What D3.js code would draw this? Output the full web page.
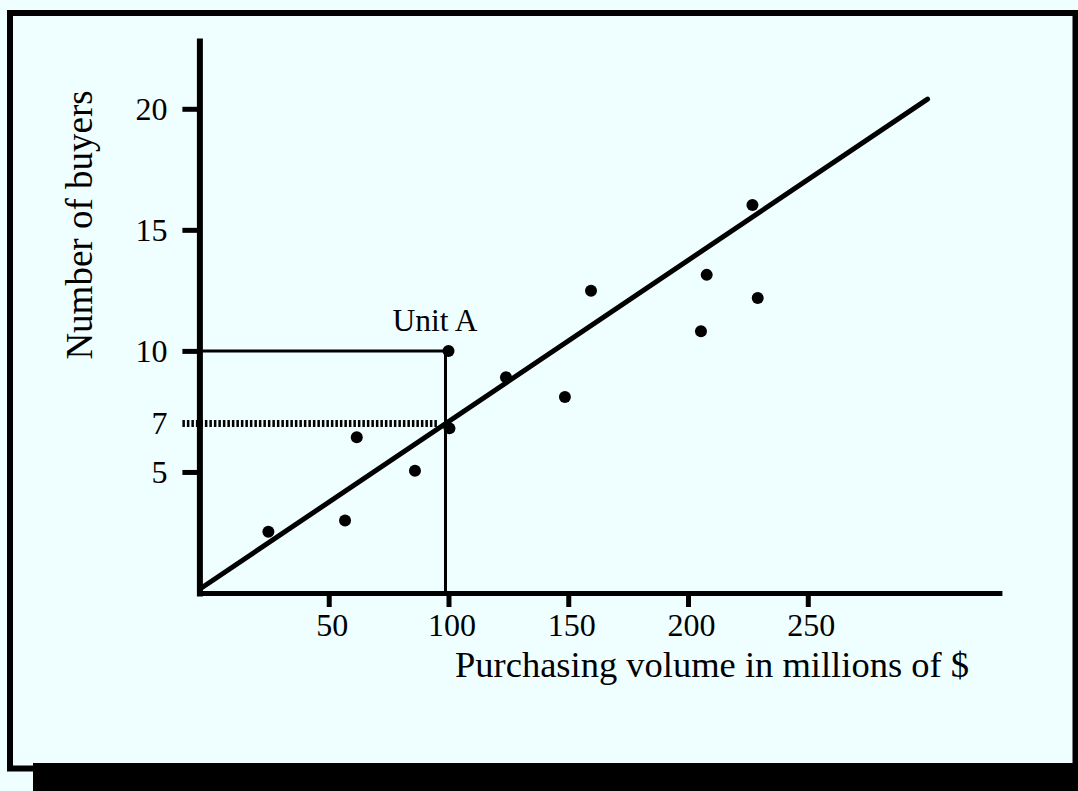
<!DOCTYPE html>
<html>
<head>
<meta charset="utf-8">
<script src="https://cdn.jsdelivr.net/npm/d3@7"></script>
<style>
  html, body { margin: 0; padding: 0; background: #effefe; }
  svg { display: block; }
  text { font-family: "Liberation Serif", "DejaVu Serif", serif; fill: #000; }
</style>
</head>
<body>
<div id="chart"></div>
<script>
// ---- data ----
const volume = [24.8, 56.8, 61.7, 86.0, 100, 100.4, 124.0, 148.6, 159.5, 205.4, 207.8, 226.9, 229.1];
const buyers = [2.53, 2.99, 6.43, 5.05, 10, 6.8, 8.91, 8.1, 12.48, 10.81, 13.14, 16.03, 12.18];

const xTicks = [50, 100, 150, 200, 250];
const yTicks = [5, 7, 10, 15, 20];

// fitted line: buyers = intercept + slope * volume
const fitIntercept = 0.42;
const fitSlope = 0.0666;
const fitFrom = -3.8, fitTo = 300;

// Unit A reference box and the read-off level
const unitA = { volume: 100, buyers: 10, label: "Unit A" };
const readLevel = 7;

const xTitle = "Purchasing volume in millions of $";
const yTitle = "Number of buyers";

// ---- drawing ----
const W = 1078, H = 791;
const svg = d3.select("#chart").append("svg")
    .attr("width", W).attr("height", H);

// frame + shadow band
svg.append("rect")
    .attr("x", 10).attr("y", 13)
    .attr("width", 1065.5).attr("height", 755.5)
    .attr("fill", "#effefe").attr("stroke", "#000").attr("stroke-width", 6);
svg.append("rect")
    .attr("x", 33).attr("y", 763)
    .attr("width", W - 33).attr("height", H - 763)
    .attr("fill", "#000");

const x = d3.scaleLinear().domain([-4, 330]).range([199.4, 999.4]);
const y = d3.scaleLinear().domain([0, 22.8]).range([593, 41]);

const g = svg.append("g");

// y axis
const yAxis = g.append("g")
    .attr("transform", `translate(${x(-4)},0)`)
    .call(d3.axisLeft(y).tickValues(yTicks).tickSize(17).tickSizeOuter(0).tickPadding(15).tickFormat(d3.format("d")));
yAxis.select(".domain").attr("stroke-width", 6).attr("stroke-linecap", "square");
yAxis.selectAll(".tick line").attr("stroke-width", 5)
    .attr("display", d => d === readLevel ? "none" : null);
yAxis.selectAll(".tick text")
    .style("font-family", "Liberation Serif, serif").attr("font-size", 32)
    .attr("fill", "#000");

// x axis
const xAxis = g.append("g")
    .attr("transform", `translate(0,${y(0)})`)
    .call(d3.axisBottom(x).tickValues(xTicks).tickSize(14).tickSizeOuter(0).tickPadding(6).tickFormat(d3.format("d")));
xAxis.select(".domain").attr("stroke-width", 5).attr("stroke-linecap", "square");
xAxis.selectAll(".tick line").attr("stroke-width", 5);
xAxis.selectAll(".tick text")
    .style("font-family", "Liberation Serif, serif").attr("font-size", 32)
    .attr("fill", "#000").attr("dx", 3);

// Unit A box
g.append("path")
    .attr("d", `M${x(-4)},${y(unitA.buyers)}H${x(unitA.volume) - 3}V${y(0)}`)
    .attr("fill", "none").attr("stroke", "#000").attr("stroke-width", 3);

g.append("text")
    .attr("x", x(unitA.volume) - 56).attr("y", y(unitA.buyers) - 20)
    .attr("font-size", 31.5)
    .text(unitA.label);

// dotted read-off line at 7
const cross = (readLevel - fitIntercept) / fitSlope;
g.append("line")
    .attr("x1", x(-4) - 17).attr("x2", x(cross) - 8)
    .attr("y1", y(readLevel)).attr("y2", y(readLevel))
    .attr("stroke", "#000").attr("stroke-width", 7)
    .attr("stroke-dasharray", "2.5,2");

// fitted line
g.append("line")
    .attr("x1", x(fitFrom)).attr("y1", y(fitIntercept + fitSlope * fitFrom))
    .attr("x2", x(fitTo)).attr("y2", y(fitIntercept + fitSlope * fitTo))
    .attr("stroke", "#000").attr("stroke-width", 5).attr("stroke-linecap", "round");

// points
g.selectAll("circle.pt")
    .data(d3.range(volume.length))
    .join("circle")
    .attr("class", "pt")
    .attr("cx", i => x(volume[i]))
    .attr("cy", i => y(buyers[i]))
    .attr("r", 6)
    .attr("fill", "#000");

// axis titles
g.append("text")
    .attr("x", 455).attr("y", 677)
    .attr("font-size", 36.5)
    .text(xTitle);

g.append("text")
    .attr("transform", `translate(92,${225}) rotate(-90)`)
    .attr("text-anchor", "middle")
    .attr("font-size", 37)
    .text(yTitle);
</script>
</body>
</html>
